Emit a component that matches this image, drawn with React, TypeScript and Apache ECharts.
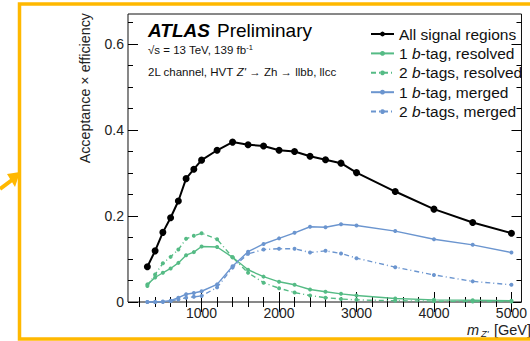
import React, { useEffect, useRef } from "react";
import * as echarts from "echarts";

const masses = [300, 400, 500, 600, 700, 800, 900, 1000, 1200, 1400, 1600, 1800, 2000, 2200, 2400, 2600, 2800, 3000, 3500, 4000, 4500, 5000];
const allSR = [0.082, 0.119, 0.162, 0.196, 0.235, 0.287, 0.309, 0.330, 0.353, 0.372, 0.366, 0.363, 0.353, 0.350, 0.339, 0.331, 0.323, 0.301, 0.257, 0.216, 0.185, 0.160];
const res1b = [0.041, 0.057, 0.068, 0.078, 0.091, 0.109, 0.116, 0.129, 0.128, 0.104, 0.075, 0.059, 0.047, 0.040, 0.029, 0.024, 0.019, 0.015, 0.008, 0.005, 0.004, 0.003];
const res2b = [0.037, 0.064, 0.090, 0.105, 0.122, 0.147, 0.154, 0.160, 0.146, 0.104, 0.068, 0.045, 0.032, 0.022, 0.015, 0.010, 0.007, 0.005, 0.003, 0.002, 0.001, 0.001];
const mer1b = [0.0, 0.0, 0.001, 0.003, 0.010, 0.018, 0.021, 0.025, 0.041, 0.083, 0.117, 0.135, 0.148, 0.161, 0.175, 0.174, 0.181, 0.178, 0.165, 0.146, 0.133, 0.115];
const mer2b = [0.0, 0.0, 0.0, 0.002, 0.006, 0.010, 0.012, 0.014, 0.034, 0.080, 0.112, 0.122, 0.124, 0.124, 0.115, 0.119, 0.113, 0.102, 0.081, 0.063, 0.048, 0.040];

const seriesNames = ["All signal regions", "1 b-tag, resolved", "2 b-tags, resolved", "1 b-tag, merged", "2 b-tags, merged"];
const xMajor = [1000, 2000, 3000, 4000, 5000];
const xMinor = [200, 400, 600, 800, 1200, 1400, 1600, 1800, 2200, 2400, 2600, 2800, 3200, 3400, 3600, 3800, 4200, 4400, 4600, 4800];
const yMajor = [0, 0.2, 0.4, 0.6];
const yMinor = [0.05, 0.1, 0.15, 0.25, 0.3, 0.35, 0.45, 0.5, 0.55, 0.65];

const FONT = "'Liberation Sans', Arial, Helvetica, sans-serif";
const GREEN = "#55BB85";
const BLUE = "#6B95CF";
const ORANGE = "#FFB800";

const X_MIN = 50;
const X_MAX = 5130;
const Y_MAX = 0.67;

function pairs(vals: number[]) {
  return masses.map((m, i) => [m, vals[i]]);
}

function xAxisDef(position: string, values: number[], len: number, labels: boolean) {
  return {
    type: "value",
    min: X_MIN,
    max: X_MAX,
    position,
    axisLine: { show: false },
    splitLine: { show: false },
    axisTick: { show: true, inside: true, length: len, customValues: values, lineStyle: { color: "#000", width: 1 } },
    axisLabel: labels
      ? {
          show: true,
          customValues: values,
          fontSize: 14,
          color: "#222",
          fontFamily: FONT,
          margin: 4,
          formatter: (v: number) => String(Math.round(v)),
        }
      : { show: false },
  };
}

function yAxisDef(position: string, values: number[], len: number, labels: boolean) {
  return {
    type: "value",
    min: 0,
    max: Y_MAX,
    position,
    axisLine: { show: false },
    splitLine: { show: false },
    axisTick: { show: true, inside: true, length: len, customValues: values, lineStyle: { color: "#000", width: 1 } },
    axisLabel: labels
      ? {
          show: true,
          customValues: values,
          fontSize: 14,
          color: "#222",
          fontFamily: FONT,
          margin: 4,
          formatter: (v: number) => (v === 0 ? "0" : v.toFixed(1)),
        }
      : { show: false },
  };
}

export default function App() {
  const ref = useRef<HTMLDivElement>(null);
  useEffect(() => {
    if (!ref.current) return;
    const chart = echarts.init(ref.current, null, { renderer: "svg" });
    const colored = (name: string, vals: number[], color: string, dashed: boolean) => ({
      name,
      type: "line",
      data: pairs(vals),
      xAxisIndex: 0,
      yAxisIndex: 0,
      symbol: "circle",
      symbolSize: 4,
      showSymbol: true,
      itemStyle: { color },
      lineStyle: { color, width: 1.4, type: dashed ? [5, 3, 1, 3] : "solid" },
      z: 2,
    });
    chart.setOption({
      animation: false,
      backgroundColor: "#fff",
      grid: {
        left: 128,
        top: 14,
        width: 402.3,
        height: 288,
        show: true,
        borderColor: "#111",
        borderWidth: 1,
        backgroundColor: "transparent",
      },
      xAxis: [
        xAxisDef("bottom", xMajor, 10, true),
        xAxisDef("bottom", xMinor, 5, false),
        xAxisDef("top", xMajor, 10, false),
        xAxisDef("top", xMinor, 5, false),
      ],
      yAxis: [
        yAxisDef("left", yMajor, 10, true),
        yAxisDef("left", yMinor, 5, false),
        yAxisDef("right", yMajor, 10, false),
        yAxisDef("right", yMinor, 5, false),
      ],
      legend: {
        orient: "vertical",
        left: 365,
        top: 20,
        itemWidth: 23,
        itemHeight: 6,
        itemGap: 1.4,
        data: seriesNames,
        textStyle: {
          fontSize: 15.5,
          fontFamily: FONT,
          color: "#111",
          lineHeight: 18,
          rich: {
            t: { fontSize: 15.5, fontFamily: FONT, color: "#111", lineHeight: 18 },
            i: { fontSize: 15.5, fontFamily: FONT, color: "#111", fontStyle: "italic", lineHeight: 18 },
          },
        },
        formatter: (name: string) => {
          const idx = name.indexOf("b-tag");
          if (idx < 0) return name;
          return "{t|" + name.slice(0, idx) + "}{i|b}{t|" + name.slice(idx + 1) + "}";
        },
      },
      series: [
        {
          name: seriesNames[0],
          type: "line",
          data: pairs(allSR),
          symbol: "circle",
          symbolSize: 7,
          itemStyle: { color: "#000" },
          lineStyle: { color: "#000", width: 2 },
          z: 5,
        },
        colored(seriesNames[1], res1b, GREEN, false),
        colored(seriesNames[2], res2b, GREEN, true),
        colored(seriesNames[3], mer1b, BLUE, false),
        colored(seriesNames[4], mer2b, BLUE, true),
      ],
      graphic: [
        { type: "rect", shape: { x: 19.5, y: 4, width: 540, height: 335 }, style: { fill: "none", stroke: ORANGE, lineWidth: 3.5 }, z: 100 },
        { type: "line", shape: { x1: 0, y1: 189, x2: 12, y2: 180 }, style: { stroke: ORANGE, lineWidth: 4 }, z: 100 },
        { type: "polygon", shape: { points: [[20, 172], [7, 174], [15, 187]] }, style: { fill: ORANGE }, z: 100 },
        {
          type: "text",
          x: 85,
          y: 13,
          rotation: Math.PI / 2,
          style: { text: "Acceptance × efficiency", fontSize: 14.3, fontFamily: FONT, fill: "#222", align: "right", verticalAlign: "middle" },
          z: 50,
        },
        {
          type: "text",
          x: 148,
          y: 30,
          style: { text: "ATLAS", fontSize: 19, fontWeight: "bold", fontStyle: "italic", fontFamily: FONT, fill: "#000", verticalAlign: "middle" },
          z: 50,
        },
        {
          type: "text",
          x: 217,
          y: 30,
          style: { text: "Preliminary", fontSize: 19, fontFamily: FONT, fill: "#000", verticalAlign: "middle" },
          z: 50,
        },
        {
          type: "text",
          x: 148,
          y: 50,
          style: {
            text: "{n|√s = 13 TeV, 139 fb}{s|-1}",
            fontFamily: FONT,
            fill: "#111",
            verticalAlign: "middle",
            rich: {
              n: { fontSize: 11.5, fontFamily: FONT, fill: "#111" },
              s: { fontSize: 7.5, fontFamily: FONT, fill: "#111", verticalAlign: "top", padding: [0, 0, 5, 0] },
            },
          },
          z: 50,
        },
        {
          type: "text",
          x: 148,
          y: 72,
          style: {
            text: "{n|2L channel, HVT }{i|Z'}{n| → Zh → llbb, llcc}",
            fontFamily: FONT,
            fill: "#111",
            verticalAlign: "middle",
            rich: {
              n: { fontSize: 11.5, fontFamily: FONT, fill: "#111" },
              i: { fontSize: 11.5, fontFamily: FONT, fill: "#111", fontStyle: "italic" },
            },
          },
          z: 50,
        },
        {
          type: "text",
          x: 467,
          y: 329.5,
          style: { text: "m", fontSize: 14.5, fontStyle: "italic", fontFamily: FONT, fill: "#222", verticalAlign: "middle" },
          z: 50,
        },
        {
          type: "text",
          x: 481,
          y: 333,
          style: { text: "Z'", fontSize: 9.5, fontStyle: "italic", fontFamily: FONT, fill: "#222", verticalAlign: "middle" },
          z: 50,
        },
        {
          type: "text",
          x: 531,
          y: 329.5,
          style: { text: "[GeV]", fontSize: 14.5, fontFamily: FONT, fill: "#222", align: "right", verticalAlign: "middle" },
          z: 50,
        },
      ],
    });
    return () => chart.dispose();
  }, []);
  return <div ref={ref} style={{ position: "absolute", left: 0, top: 0, width: 530, height: 341 }} />;
}
